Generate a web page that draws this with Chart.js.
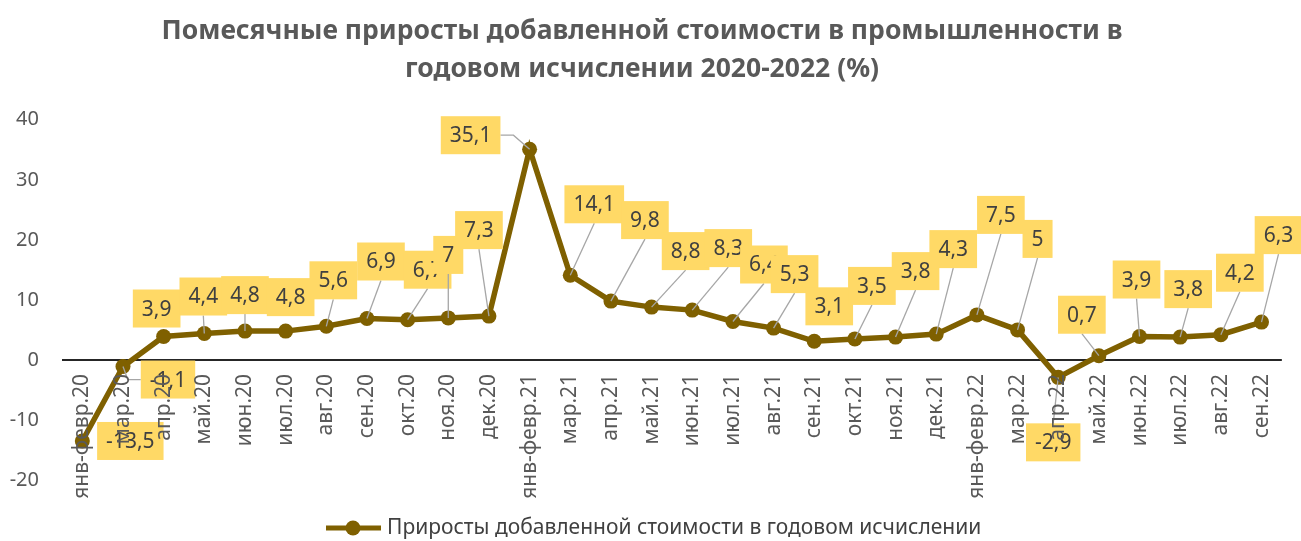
<!DOCTYPE html>
<html>
<head>
<meta charset="utf-8">
<script src="https://cdn.jsdelivr.net/npm/chart.js@4.4.0/dist/chart.umd.min.js"></script>
<style>
  html,body{margin:0;padding:0;background:#fff;}
  #wrap{width:1301px;height:541px;}
</style>
</head>
<body>
<div id="wrap"><canvas id="chart"></canvas></div>
<script>
// categories (months)
const months = ['янв-февр.20','мар.20','апр.20','май.20','июн.20','июл.20','авг.20','сен.20','окт.20','ноя.20','дек.20',
  'янв-февр.21','мар.21','апр.21','май.21','июн.21','июл.21','авг.21','сен.21','окт.21','ноя.21','дек.21',
  'янв-февр.22','мар.22','апр.22','май.22','июн.22','июл.22','авг.22','сен.22'];
// year-on-year growth, %
const growth = [-13.5,-1.1,3.9,4.4,4.8,4.8,5.6,6.9,6.7,7,7.3,
  35.1,14.1,9.8,8.8,8.3,6.4,5.3,3.1,3.5,3.8,4.3,
  7.5,5,-2.9,0.7,3.9,3.8,4.2,6.3];
const seriesName = 'Приросты добавленной стоимости в годовом исчислении';
const titleLines = ['Помесячные приросты добавленной стоимости в промышленности в','годовом исчислении 2020-2022 (%)'];

// where each data label box sits, relative to its point (px)
const labelShift = [[48,0],[45,13],[-7,-28],[-1,-37],[0,-36],[5,-34],[7,-46],[14,-57],[20,-50],[0,-63],[-10,-86],
  [-59,-14],[24,-71],[34,-81],[34,-56],[36,-62],[31,-57],[21,-54],[15,-35],[17,-53],[20,-66],[17,-85],
  [24,-100],[20,-91],[-5,65],[-17,-41],[-3,-57],[8,-48],[19,-62],[17,-87]];

const LINE = '#7f6000';
const FONT = '"Noto Sans", "DejaVu Sans", sans-serif';
const fmt = v => String(v).replace('.', ',');

// yellow callout labels with leader lines
const dataLabels = {
  id:'dataLabels',
  afterDatasetsDraw(chart){
    const ctx = chart.ctx;
    const pts = chart.getDatasetMeta(0).data;
    ctx.save();
    ctx.font = '21px ' + FONT;
    ctx.textAlign = 'center';
    ctx.textBaseline = 'middle';
    pts.forEach((p,i)=>{
      const txt = fmt(growth[i]);
      const w = ctx.measureText(txt).width + 18, h = 38;
      const cx = p.x + labelShift[i][0], cy = p.y + labelShift[i][1];
      const l = cx - w/2, r = cx + w/2, t = cy - h/2, b = cy + h/2;
      ctx.strokeStyle = '#a6a6a6';
      ctx.lineWidth = 1.3;
      ctx.beginPath();
      if(p.y >= t && p.y <= b){
        const left = p.x < l;
        const edge = left ? l : r;
        if(Math.abs(edge - p.x) > 16){
          const ex = edge + (left ? -13 : 13);
          ctx.moveTo(p.x,p.y); ctx.lineTo(ex,cy); ctx.lineTo(edge,cy);
        }
      } else {
        const ey = p.y > b ? b : t;
        if(Math.abs(ey - p.y) > 16){ ctx.moveTo(p.x,p.y); ctx.lineTo(cx,ey); }
      }
      ctx.stroke();
      ctx.fillStyle = '#ffd966';
      ctx.fillRect(l,t,w,h);
      ctx.fillStyle = '#404040';
      ctx.fillText(txt,cx,cy+1);
    });
    ctx.restore();
  }
};

// bottom legend: line with marker + series name
const lineLegend = {
  id:'lineLegend',
  afterDraw(chart){
    const ctx = chart.ctx, y = 528;
    ctx.save();
    ctx.strokeStyle = LINE; ctx.lineWidth = 5;
    ctx.beginPath(); ctx.moveTo(326,y); ctx.lineTo(381,y); ctx.stroke();
    ctx.fillStyle = LINE;
    ctx.beginPath(); ctx.arc(353,y,7.5,0,Math.PI*2); ctx.fill();
    ctx.fillStyle = '#404040';
    ctx.font = '21px ' + FONT;
    ctx.textAlign = 'left'; ctx.textBaseline = 'middle';
    ctx.fillText(chart.data.datasets[0].label, 387, y);
    ctx.restore();
  }
};

Chart.defaults.font.family = FONT;

new Chart(document.getElementById('chart'),{
  type:'line',
  data:{
    labels:months,
    datasets:[{
      label:seriesName,
      data:growth,
      borderColor:LINE,
      backgroundColor:LINE,
      borderWidth:5.5,
      pointRadius:7.5,
      pointBackgroundColor:LINE,
      pointBorderWidth:0,
      tension:0
    }]
  },
  options:{
    responsive:true,
    maintainAspectRatio:false,
    animation:false,
    devicePixelRatio:1,
    layout:{padding:{left:0,right:17,top:0,bottom:61}},
    plugins:{
      legend:{display:false},
      tooltip:{enabled:false},
      title:{
        display:true,
        text:titleLines,
        color:'#595959',
        font:{size:26.5,weight:'bold',lineHeight:1.43},
        padding:{top:13,bottom:31}
      }
    },
    scales:{
      x:{
        type:'category',
        offset:true,
        position:{y:0},
        grid:{display:false,drawTicks:false},
        border:{display:false},
        ticks:{
          z:1,
          autoSkip:false,
          minRotation:90,
          maxRotation:90,
          padding:14,
          color:'#595959',
          font:{size:21}
        }
      },
      y:{
        min:-20,
        max:40,
        afterFit(scale){ scale.width = 62; },
        grid:{
          drawTicks:false,
          lineWidth:2,
          color:c => c.tick.value === 0 ? '#262626' : 'rgba(0,0,0,0)'
        },
        border:{display:false},
        ticks:{stepSize:10,padding:23,color:'#595959',font:{size:20}}
      }
    }
  },
  plugins:[dataLabels,lineLegend]
});
</script>
</body>
</html>
